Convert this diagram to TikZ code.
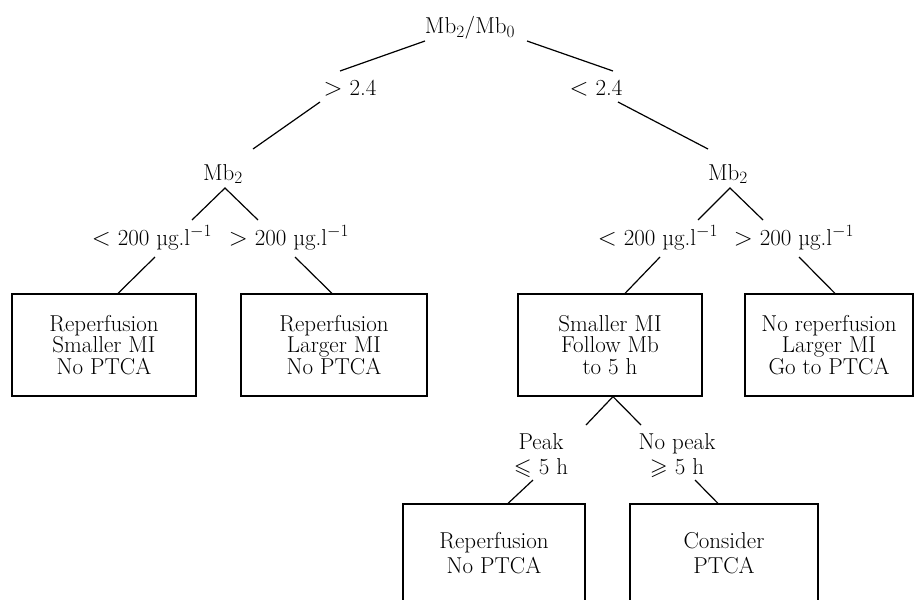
\documentclass[tikz,border=0pt]{standalone}
\usepackage{amssymb}
\usetikzlibrary{calc}
\begin{document}
\begin{tikzpicture}[x=1pt,y=-1pt,
  every node/.style={font=\fontsize{23}{21.5}\selectfont, inner sep=0pt, align=center},
  lowtext/.style={font=\fontsize{23}{25}\selectfont},
  conn/.style={line width=1.2pt},
  box/.style={draw, line width=1.2pt}]
\useasboundingbox (0,0) rectangle (919,600);
\clip (0,0) rectangle (919,600);
% text nodes
\node (root) at (470,28) {Mb$_2$/Mb$_0$};
\node (gt) at (350,88) {$>$ 2.4};
\node (lt) at (596,88) {$<$ 2.4};
\node (mbL) at (223,174) {Mb$_2$};
\node (mbR) at (728,174) {Mb$_2$};
\node (la) at (152,238) {$<$ 200 µg.l$^{-1}$};
\node (lb) at (289,238) {$>$ 200 µg.l$^{-1}$};
\node (lc) at (658,238) {$<$ 200 µg.l$^{-1}$};
\node (ld) at (794,238) {$>$ 200 µg.l$^{-1}$};
% boxes
\node[box, minimum width=184, minimum height=102] (b1) at (104,345) {Reperfusion\\Smaller MI\\No PTCA};
\node[box, minimum width=186, minimum height=102] (b2) at (334,345) {Reperfusion\\Larger MI\\No PTCA};
\node[box, minimum width=184, minimum height=102] (b3) at (610,345) {Smaller MI\\Follow Mb\\to 5 h};
\node[box, minimum width=168, minimum height=102] (b4) at (829,345) {No reperfusion\\Larger MI\\Go to PTCA};
\node[lowtext] (le) at (541,456) {Peak\\$\leqslant$ 5 h};
\node[lowtext] (lf) at (677,456) {No peak\\$\geqslant$ 5 h};
\node[box, minimum width=182, minimum height=110] (b5) at (494,559) {};
\node[box, minimum width=188, minimum height=110] (b6) at (724,559) {};
\node[lowtext] (t5) at (494,553) {Reperfusion\\No PTCA};
\node[lowtext] (t6) at (724,553) {Consider\\PTCA};
% connectors
\draw[conn] ($(root)+(-45,13)$) -- ($(gt)+(-10,-17)$);
\draw[conn] ($(root)+(57,13)$) -- ($(lt)+(17,-17)$);
\draw[conn] ($(gt)+(-30,14)$) -- ($(mbL)+(30,-25)$);
\draw[conn] ($(lt)+(22,14)$) -- ($(mbR)+(-20,-25)$);
\draw[conn] ($(la)+(40,-18)$) -- ($(mbL)+(2,14)$) -- ($(lb)+(-31,-18)$);
\draw[conn] ($(lc)+(40,-18)$) -- ($(mbR)+(2,14)$) -- ($(ld)+(-31,-18)$);
\draw[conn] ($(la)+(3,19)$) -- ($(b1.north)+(14,0)$);
\draw[conn] ($(lb)+(6,19)$) -- ($(b2.north)+(-2,0)$);
\draw[conn] ($(lc)+(2,19)$) -- ($(b3.north)+(15,0)$);
\draw[conn] ($(ld)+(5,19)$) -- ($(b4.north)+(6,0)$);
\draw[conn] ($(le)+(45,-31)$) -- ($(b3.south)+(3,0)$) -- ($(lf)+(-36,-31)$);
\draw[conn] ($(le)+(-8,24)$) -- ($(b5.north)+(14,0)$);
\draw[conn] ($(lf)+(18,24)$) -- ($(b6.north)+(-6,0)$);
\end{tikzpicture}
\end{document}
